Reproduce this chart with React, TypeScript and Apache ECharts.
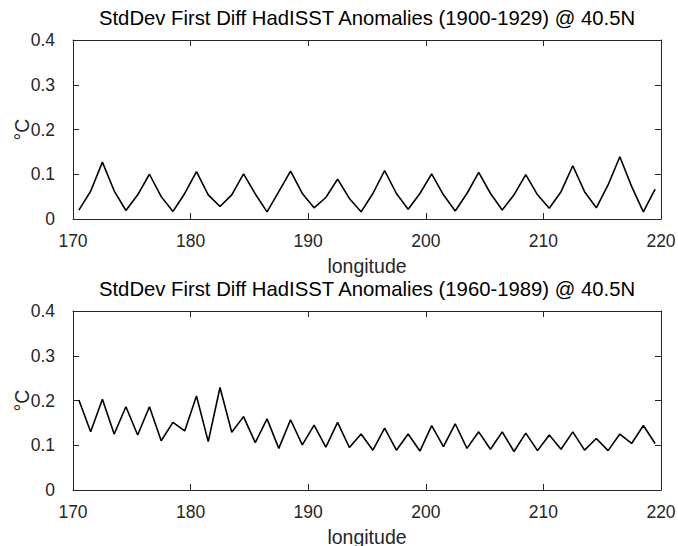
import React, { useEffect, useRef } from "react";
import * as echarts from "echarts";

const longitudes = [
  170.5, 171.5, 172.5, 173.5, 174.5, 175.5, 176.5, 177.5, 178.5, 179.5,
  180.5, 181.5, 182.5, 183.5, 184.5, 185.5, 186.5, 187.5, 188.5, 189.5,
  190.5, 191.5, 192.5, 193.5, 194.5, 195.5, 196.5, 197.5, 198.5, 199.5,
  200.5, 201.5, 202.5, 203.5, 204.5, 205.5, 206.5, 207.5, 208.5, 209.5,
  210.5, 211.5, 212.5, 213.5, 214.5, 215.5, 216.5, 217.5, 218.5, 219.5,
];

const sd1900_1929 = [
  0.020, 0.062, 0.127, 0.063, 0.019, 0.054, 0.100, 0.050, 0.017, 0.057,
  0.106, 0.054, 0.028, 0.054, 0.101, 0.056, 0.016, 0.061, 0.107, 0.057,
  0.025, 0.048, 0.089, 0.046, 0.016, 0.057, 0.108, 0.057, 0.022, 0.057,
  0.101, 0.054, 0.018, 0.057, 0.104, 0.057, 0.020, 0.054, 0.099, 0.054,
  0.024, 0.061, 0.119, 0.061, 0.025, 0.076, 0.139, 0.073, 0.016, 0.067,
];

const sd1960_1989 = [
  0.201, 0.130, 0.203, 0.125, 0.186, 0.123, 0.186, 0.110, 0.151, 0.132,
  0.210, 0.108, 0.229, 0.129, 0.164, 0.106, 0.159, 0.093, 0.157, 0.101,
  0.145, 0.096, 0.151, 0.095, 0.125, 0.089, 0.138, 0.089, 0.125, 0.087,
  0.144, 0.097, 0.148, 0.093, 0.130, 0.091, 0.130, 0.086, 0.127, 0.088,
  0.123, 0.091, 0.130, 0.089, 0.115, 0.088, 0.125, 0.104, 0.144, 0.104,
];

const titles = [
  "StdDev First Diff HadISST Anomalies (1900-1929) @ 40.5N",
  "StdDev First Diff HadISST Anomalies (1960-1989) @ 40.5N",
];
const xLabel = "longitude";
const yLabel = "°C";

const FONT = "'Liberation Sans', Arial, Helvetica, sans-serif";
const AX = "#262626";

export default function App() {
  const ref = useRef<HTMLDivElement>(null);
  useEffect(() => {
    if (!ref.current) return;
    const chart = echarts.init(ref.current, null, { renderer: "svg" });
    const grids = [
      { left: 73, top: 40, width: 588, height: 179, outerBoundsMode: "none", containLabel: false },
      { left: 73, top: 311, width: 588, height: 179, outerBoundsMode: "none", containLabel: false },
    ];
    const xAxis: any[] = [];
    const yAxis: any[] = [];
    grids.forEach((_, gi) => {
      ["bottom", "top"].forEach((pos) => {
        xAxis.push({
          gridIndex: gi,
          type: "value",
          position: pos,
          min: 170,
          max: 220,
          interval: 10,
          axisLine: { show: true, onZero: false, lineStyle: { color: AX, width: 1 } },
          axisTick: { show: true, inside: true, length: 6, lineStyle: { color: AX } },
          axisLabel: {
            show: pos === "bottom",
            margin: 13,
            fontSize: 17.5,
            color: AX,
            fontFamily: FONT,
          },
          splitLine: { show: false },
        });
      });
      ["left", "right"].forEach((pos) => {
        yAxis.push({
          gridIndex: gi,
          type: "value",
          position: pos,
          min: 0,
          max: 0.4,
          interval: 0.1,
          axisLine: { show: true, onZero: false, lineStyle: { color: AX, width: 1 } },
          axisTick: { show: true, inside: true, length: 6, lineStyle: { color: AX } },
          axisLabel: {
            show: pos === "left",
            margin: 18,
            fontSize: 17.5,
            color: AX,
            fontFamily: FONT,
          },
          splitLine: { show: false },
        });
      });
    });
    const graphic: any[] = [];
    grids.forEach((g, gi) => {
      const cx = g.left + g.width / 2;
      graphic.push({
        type: "text",
        x: cx,
        y: g.top - 22,
        style: {
          text: titles[gi],
          fontSize: 20.3,
          fontFamily: FONT,
          fill: "#000",
          align: "center",
          verticalAlign: "middle",
        },
      });
      graphic.push({
        type: "text",
        x: cx,
        y: g.top + g.height + 46.5,
        style: {
          text: xLabel,
          fontSize: 19.5,
          fontFamily: FONT,
          fill: AX,
          align: "center",
          verticalAlign: "middle",
        },
      });
      graphic.push({
        type: "text",
        x: 22,
        y: g.top + g.height / 2,
        rotation: Math.PI / 2,
        style: {
          text: yLabel,
          fontSize: 19.5,
          fontFamily: FONT,
          fill: AX,
          align: "center",
          verticalAlign: "middle",
        },
      });
    });
    chart.setOption({
      animation: false,
      backgroundColor: "#fff",
      grid: grids,
      xAxis,
      yAxis,
      graphic,
      series: [
        {
          type: "line",
          xAxisIndex: 0,
          yAxisIndex: 0,
          data: longitudes.map((x, i) => [x, sd1900_1929[i]]),
          showSymbol: false,
          lineStyle: { color: "#000", width: 1.6 },
        },
        {
          type: "line",
          xAxisIndex: 2,
          yAxisIndex: 2,
          data: longitudes.map((x, i) => [x, sd1960_1989[i]]),
          showSymbol: false,
          lineStyle: { color: "#000", width: 1.6 },
        },
      ],
    });
    return () => chart.dispose();
  }, []);
  return (
    <div
      ref={ref}
      style={{ position: "fixed", left: 0, top: 0, width: 678, height: 546, background: "#fff" }}
    />
  );
}
